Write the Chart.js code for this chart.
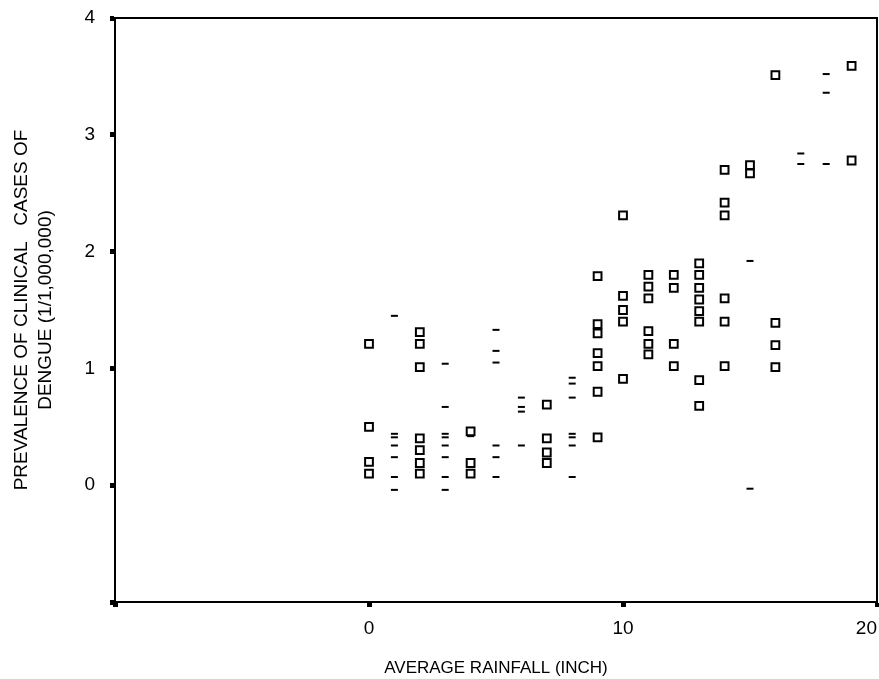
<!DOCTYPE html>
<html lang="en">
<head>
  <meta charset="UTF-8" />
  <title>Average rainfall vs dengue prevalence</title>
  <script src="https://cdn.jsdelivr.net/npm/chart.js"></script>
  <style>
    body { margin: 0; background: #fff; }
    #grafico-container { width: 879px; height: 679px; position: relative; }
  </style>
</head>
<body>
  <div id="grafico-container">
    <canvas id="grafico"></canvas>
  </div>
  <script>
    // points drawn as hollow squares
    const boxRain = [0, 0, 0, 0,
      2, 2, 2, 2, 2, 2, 2,
      4, 4, 4,
      7, 7, 7, 7,
      9, 9, 9, 9, 9, 9, 9,
      10, 10, 10, 10, 10,
      11, 11, 11, 11, 11, 11,
      12, 12, 12, 12,
      13, 13, 13, 13, 13, 13, 13, 13,
      14, 14, 14, 14, 14, 14,
      15, 15,
      16, 16, 16, 16,
      19, 19];
    const boxPrev = [1.21, 0.50, 0.20, 0.10,
      1.31, 1.21, 1.01, 0.40, 0.30, 0.19, 0.10,
      0.46, 0.19, 0.10,
      0.69, 0.40, 0.28, 0.19,
      1.79, 1.38, 1.30, 1.13, 1.02, 0.80, 0.41,
      2.31, 1.62, 1.50, 1.40, 0.91,
      1.80, 1.70, 1.60, 1.32, 1.21, 1.12,
      1.80, 1.69, 1.21, 1.02,
      1.90, 1.80, 1.69, 1.59, 1.49, 1.40, 0.90, 0.68,
      2.70, 2.42, 2.31, 1.60, 1.40, 1.02,
      2.74, 2.67,
      3.51, 1.39, 1.20, 1.01,
      3.59, 2.78];

    // points that print only as short dashes
    const dashRain = [1, 1, 1, 1, 1, 1, 1,
      3, 3, 3, 3, 3, 3, 3, 3,
      4,
      5, 5, 5, 5, 5, 5,
      6, 6, 6, 6,
      8, 8, 8, 8, 8, 8, 8,
      15, 15,
      17, 17,
      18, 18, 18];
    const dashPrev = [1.45, 0.44, 0.41, 0.34, 0.24, 0.07, -0.04,
      1.04, 0.67, 0.44, 0.41, 0.34, 0.24, 0.07, -0.04,
      0.42,
      1.33, 1.15, 1.05, 0.34, 0.24, 0.07,
      0.75, 0.67, 0.63, 0.34,
      0.92, 0.87, 0.75, 0.44, 0.41, 0.34, 0.07,
      1.92, -0.03,
      2.84, 2.75,
      3.52, 3.36, 2.75];

    const xLabels = [0, 10, 20];
    const yLabels = [0, 1, 2, 3, 4];

    const fonte = '"Liberation Sans", Arial, sans-serif';

    const pares = (xs, ys) => xs.map((x, i) => ({ x, y: ys[i] }));

    new Chart(document.getElementById('grafico'), {
      type: 'scatter',
      data: {
        datasets: [
          {
            label: 'boxes',
            data: pares(boxRain, boxPrev),
            pointStyle: 'rect',
            pointRadius: 5.5,
            pointHoverRadius: 5.5,
            borderColor: '#000',
            backgroundColor: 'rgba(0,0,0,0)',
            borderWidth: 2
          },
          {
            label: 'dashes',
            data: pares(dashRain, dashPrev),
            pointStyle: 'line',
            pointRadius: 3.5,
            pointHoverRadius: 3.5,
            borderColor: '#000',
            borderWidth: 2
          }
        ]
      },
      options: {
        responsive: true,
        maintainAspectRatio: false,
        animation: false,
        layout: { autoPadding: false, padding: { top: 18, right: 2, left: 0, bottom: 0 } },
        plugins: { legend: { display: false }, tooltip: { enabled: false } },
        scales: {
          x: {
            type: 'linear',
            min: -10, max: 20,
            ticks: {
              stepSize: 10,
              padding: 10,
              align: 'inner',
              color: '#000',
              font: { family: fonte, size: 19 },
              callback: v => xLabels.includes(v) ? v : ''
            },
            grid: { drawOnChartArea: false, tickLength: 5, tickWidth: 5, tickColor: '#000' },
            border: { display: true, color: '#000', width: 2 },
            title: {
              display: true,
              text: 'AVERAGE RAINFALL (INCH)',
              color: '#000',
              font: { family: fonte, size: 17, lineHeight: 1.2 },
              padding: { top: 1, bottom: 0 }
            },
            afterFit: s => { s.height = 77; s.paddingRight = 0; s.paddingLeft = 0; }
          },
          y: {
            type: 'linear',
            min: -1, max: 4,
            ticks: {
              stepSize: 1,
              padding: 15,
              color: '#000',
              font: { family: fonte, size: 19 },
              callback: v => yLabels.includes(v) ? v : ''
            },
            grid: { drawOnChartArea: false, tickLength: 5, tickWidth: 5, tickColor: '#000' },
            border: { display: true, color: '#000', width: 2 },
            title: {
              display: true,
              text: ['PREVALENCE OF CLINICAL   CASES OF', 'DENGUE (1/1,000,000)'],
              color: '#000',
              font: { family: fonte, size: 19, lineHeight: 1.26 },
              padding: { top: 10, bottom: 0 }
            },
            afterFit: s => { s.width = 115; s.paddingTop = 0; s.paddingBottom = 0; }
          },
          xTopo: {
            type: 'linear',
            position: 'top',
            ticks: { display: false },
            grid: { display: false },
            border: { display: true, color: '#000', width: 2 },
            afterFit: s => { s.height = 0; }
          },
          yDireita: {
            type: 'linear',
            position: 'right',
            ticks: { display: false },
            grid: { display: false },
            border: { display: true, color: '#000', width: 2 },
            afterFit: s => { s.width = 0; }
          }
        }
      }
    });
  </script>
</body>
</html>
